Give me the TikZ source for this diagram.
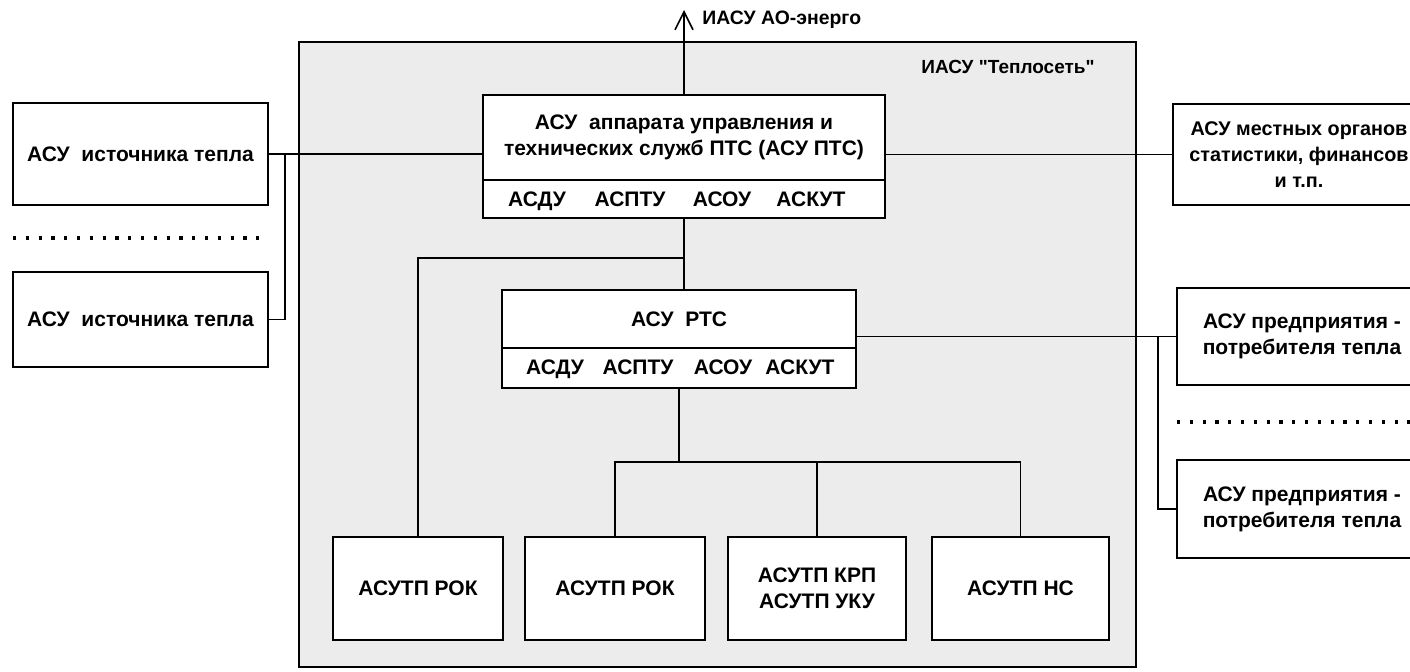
\documentclass[tikz,border=0pt]{standalone}
\usepackage{fontspec}
\setmainfont{Liberation Sans}[Ligatures=TeXOff]
\usepackage{tikz}
\usetikzlibrary{calc,arrows.meta,positioning}
\definecolor{framebg}{HTML}{ECECEC}
\tikzset{
  box/.style={draw,line width=1.2pt,fill=white,align=center,inner sep=0pt,outer sep=0pt,font=\bfseries\fontsize{10.5}{13}\selectfont},
  rowlbl/.style={font=\bfseries\fontsize{10.5}{13}\selectfont,inner sep=0pt,anchor=base},
  ln/.style={line width=0.9pt},
  dots/.style={line width=1.6pt,dash pattern=on 1.6pt off 4.8pt},
  lbl/.style={font=\bfseries\fontsize{9.5}{11}\selectfont,inner sep=0pt},
  up/.style={-{Straight Barb[length=9pt,width=9pt]},line width=0.8pt}
}

\begin{document}
\begin{tikzpicture}[x=0.5pt,y=-0.5pt]
\useasboundingbox (0,0) rectangle (1410,671);
\clip (0,0) rectangle (1410,671);
% frame of the heat network system
\draw[line width=0.9pt,fill=framebg] (299,42) rectangle (1136,667);
\node[lbl,anchor=east] (ftitle) at (1095,67) {ИАСУ "Теплосеть"};

% upper level
\node[box,minimum width=201pt,minimum height=42.5pt] (ptc) at (684,137.5)
  {АСУ\ \ аппарата управления и\\технических служб ПТС (АСУ ПТС)};
\node[box,minimum width=201pt,minimum height=19pt,anchor=north] (ptcrow) at (ptc.south) {};
\foreach \n/\x in {АСДУ/537,АСПТУ/630,АСОУ/722,АСКУТ/811}
  \node[rowlbl] at (\x,206) {\n};

\node[box,minimum width=177pt,minimum height=29pt] (rtc) at (679,319) {АСУ\ \ РТС};
\node[box,minimum width=177pt,minimum height=20pt,anchor=north] (rtcrow) at (rtc.south) {};
\foreach \n/\x in {АСДУ/555,АСПТУ/638,АСОУ/723,АСКУТ/800}
  \node[rowlbl] at (\x,374) {\n};

% outside systems
\node[box,minimum width=127.5pt,minimum height=51pt] (src1) at (140.5,154) {АСУ\ \ источника тепла};
\node[box,minimum width=127.5pt,minimum height=47.5pt] (src2) at (140.5,319.5) {АСУ\ \ источника тепла};
\node[box,minimum width=126pt,minimum height=50.5pt,font=\bfseries\fontsize{9.9}{13}\selectfont] (loc) at (1299,154.5)
  {АСУ местных органов\\статистики, финансов\\и т.п.};
\node[box,minimum width=125pt,minimum height=48.5pt] (cons1) at (1302,336.5)
  {АСУ предприятия -\\потребителя тепла};
\node[box,minimum width=125pt,minimum height=49pt] (cons2) at (1302,509)
  {АСУ предприятия -\\потребителя тепла};

% process level
\node[box,minimum width=85pt,minimum height=51.5pt] (rok1) at (418,588.5) {АСУТП РОК};
\node[box,minimum width=90pt,minimum height=51.5pt] (rok2) at (615,588.5) {АСУТП РОК};
\node[box,minimum width=89pt,minimum height=51.5pt] (krp) at (817,588.5) {АСУТП КРП\\АСУТП УКУ};
\node[box,minimum width=88.5pt,minimum height=51.5pt] (ns) at (1020.5,588.5) {АСУТП НС};

\draw[dots] (13,238) -- (265,238);
\draw[dots] (1177,422) -- (1410,422);

% links
\coordinate (top) at (684,10);
\coordinate (jsrc) at (285,154);
\coordinate (jrok) at (684,258);
\coordinate (bus) at (0,462);
\coordinate (jcons) at (1158,0);
\draw[up] (ptc.north) -- (top);
\node[lbl,font=\bfseries\fontsize{9.7}{11}\selectfont,anchor=west] (ext) at (702,20) {ИАСУ АО-энерго};
\draw[ln] (src1.east) -- (src1.east -| ptc.west);
\draw[ln] (src2.east) -| (jsrc);
\draw[ln] (ptc.east |- loc.west) -- (loc.west);
\draw[ln] (ptcrow.south) -- (ptcrow.south |- rtc.north);
\draw[ln] (jrok) -| (rok1.north);
\draw[ln] (rtcrow.south) -- (rtcrow.south |- bus);
\draw[ln] (rok2.north) |- (ns.north |- bus) -- (ns.north);
\draw[ln] (krp.north) -- (krp.north |- bus);
\draw[ln] (cons1.west -| rtc.east) -- (cons1.west);
\draw[ln] (cons2.west) -| (jcons |- cons1.west);
\end{tikzpicture}
\end{document}
